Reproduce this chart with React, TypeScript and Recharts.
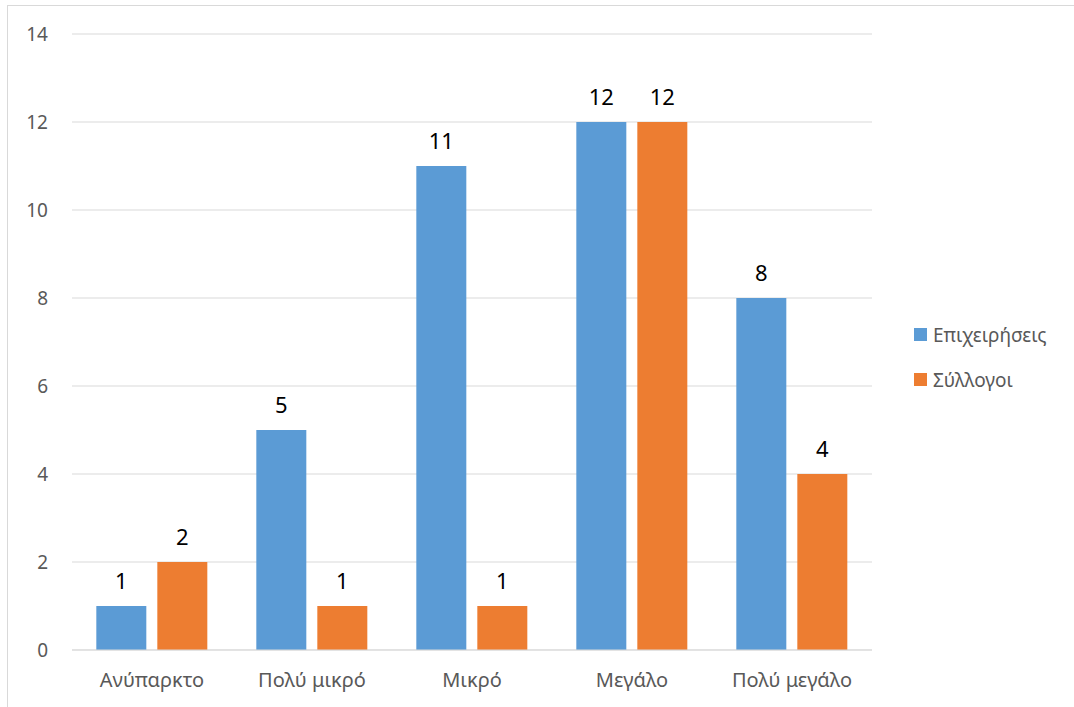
import React from 'react';
import { BarChart, Bar, XAxis, YAxis, CartesianGrid, Legend, LabelList } from 'recharts';

const categories = ['Ανύπαρκτο', 'Πολύ μικρό', 'Μικρό', 'Μεγάλο', 'Πολύ μεγάλο'];
const businesses = [1, 5, 11, 12, 8];
const associations = [2, 1, 1, 12, 4];
const yTicks = [0, 2, 4, 6, 8, 10, 12, 14];

const seriesNames = ['Επιχειρήσεις', 'Σύλλογοι'];
const colors = ['#5b9bd5', '#ed7d31'];

const data = categories.map((name, i) => ({
  name,
  businesses: businesses[i],
  associations: associations[i],
}));

const font = '"Noto Sans", sans-serif';
const legendWidth = 160;

const LegendBox = () => (
  <div style={{ fontFamily: font, fontSize: 19, color: '#595959' }}>
    {seriesNames.map((s, i) => (
      <div key={s} style={{ display: 'flex', alignItems: 'center', height: 45 }}>
        <span style={{ width: 13, height: 13, background: colors[i], marginRight: 6, display: 'inline-block' }} />
        {s}
      </div>
    ))}
  </div>
);

export default function App() {
  return (
    <div style={{ position: 'absolute', left: 0, top: 0, width: 1074, height: 707, background: '#fff', overflow: 'hidden' }}>
      <div style={{ position: 'absolute', left: 7, top: 5, width: 1100, height: 760, border: '1px solid #d9d9d9' }} />
      <div style={{ position: 'absolute', left: 0, top: 0 }}>
        <BarChart
          width={1074}
          height={707}
          data={data}
          margin={{ top: 34, right: 202 - legendWidth, bottom: 0, left: 0 }}
          barCategoryGap="15.2%"
          barGap={11}
        >
          <CartesianGrid vertical={false} stroke="#d9d9d9" />
          <XAxis
            dataKey="name"
            height={57}
            tickLine={false}
            axisLine={{ stroke: '#d9d9d9' }}
            tickSize={0}
            tickMargin={23}
            tick={{ fill: '#595959', fontSize: 20, fontFamily: font }}
          />
          <YAxis
            width={72}
            domain={[0, 14]}
            ticks={yTicks}
            axisLine={false}
            tickLine={false}
            tickSize={0}
            tickMargin={24}
            tick={{ fill: '#595959', fontSize: 19, fontFamily: font }}
          />
          <Legend
            layout="vertical"
            verticalAlign="top"
            align="right"
            content={LegendBox}
            wrapperStyle={{ left: 914, top: 312, width: legendWidth }}
          />
          <Bar dataKey="businesses" name={seriesNames[0]} fill={colors[0]} isAnimationActive={false}>
            <LabelList dataKey="businesses" position="top" offset={17} fill="#000" fontSize={22} fontFamily={font} />
          </Bar>
          <Bar dataKey="associations" name={seriesNames[1]} fill={colors[1]} isAnimationActive={false}>
            <LabelList dataKey="associations" position="top" offset={17} fill="#000" fontSize={22} fontFamily={font} />
          </Bar>
        </BarChart>
      </div>
    </div>
  );
}
